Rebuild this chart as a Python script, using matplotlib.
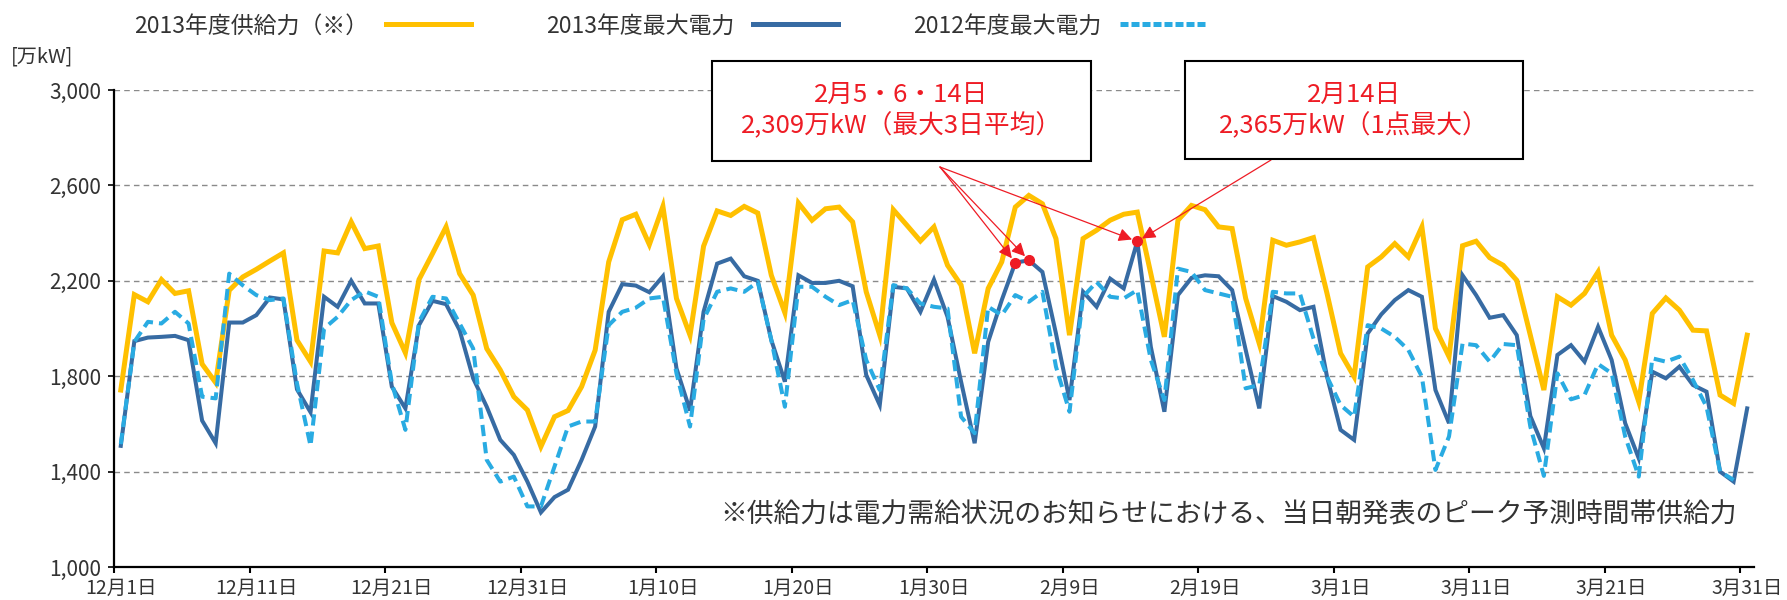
import matplotlib
matplotlib.use('Agg')
import matplotlib.pyplot as plt
from matplotlib.lines import Line2D
from matplotlib.patches import Rectangle
import numpy as np

plt.rcParams['font.family'] = ['Noto Sans CJK JP', 'DejaVu Sans']

# daily values, 12/1 .. 3/31 (121 days), 万kW
supply_2013 = [1742, 2142, 2112, 2205, 2147, 2158, 1851, 1773, 2160, 2216,
               2248, 2283, 2317, 1951, 1861, 2325, 2317, 2447, 2335, 2346,
               2024, 1898, 2205, 2314, 2426, 2230, 2140, 1916, 1826, 1714,
               1658, 1505, 1630, 1656, 1756, 1909, 2279, 2456, 2479, 2352,
               2512, 2126, 1972, 2345, 2493, 2474, 2512, 2484, 2223, 2066,
               2526, 2454, 2502, 2509, 2447, 2154, 1972, 2498, 2433, 2367,
               2426, 2265, 2182, 1896, 2168, 2279, 2509, 2558, 2523, 2377,
               1972, 2377, 2412, 2454, 2479, 2488, 2230, 1965, 2454, 2516,
               2498, 2426, 2419, 2126, 1937, 2370, 2349, 2363, 2381, 2147,
               1896, 1798, 2258, 2300, 2356, 2300, 2426, 2000, 1882, 2347,
               2366, 2297, 2265, 2202, 1972, 1742, 2133, 2098, 2147, 2237,
               1972, 1868, 1693, 2063, 2128, 2077, 1993, 1990, 1721, 1686,
               1972]

peak_2013 = [1508, 1947, 1962, 1965, 1969, 1951, 1614, 1519, 2025, 2025,
             2056, 2130, 2122, 1745, 1649, 2133, 2091, 2200, 2105, 2105,
             1756, 1665, 2014, 2116, 2102, 1993, 1791, 1672, 1533, 1470,
             1358, 1229, 1293, 1324, 1449, 1589, 2070, 2186, 2180, 2152,
             2219, 1833, 1656, 2070, 2272, 2293, 2219, 2200, 1951, 1777,
             2223, 2191, 2191, 2200, 2177, 1805, 1679, 2175, 2168, 2070,
             2205, 2049, 1777, 1519, 1944, 2119, 2276, 2286, 2237, 1979,
             1700, 2154, 2091, 2209, 2168, 2365, 1923, 1651, 2140, 2212,
             2223, 2219, 2161, 1910, 1665, 2136, 2112, 2077, 2091, 1798,
             1575, 1533, 1979, 2059, 2119, 2161, 2133, 1742, 1603, 2223,
             2140, 2045, 2056, 1972, 1633, 1498, 1889, 1930, 1861, 2007,
             1868, 1603, 1456, 1819, 1791, 1840, 1763, 1735, 1400, 1358,
             1665]

peak_2012 = [1515, 1944, 2028, 2021, 2070, 2021, 1714, 1707, 2230, 2181,
             2140, 2119, 2126, 1770, 1508, 2000, 2049, 2119, 2156, 2133,
             1770, 1575, 2028, 2133, 2126, 2021, 1916, 1449, 1358, 1379,
             1254, 1254, 1421, 1589, 1610, 1610, 2014, 2070, 2087, 2126,
             2133, 1812, 1589, 2038, 2154, 2168, 2154, 2195, 1951, 1672,
             2175, 2175, 2133, 2098, 2119, 1868, 1742, 2182, 2168, 2105,
             2091, 2084, 1630, 1561, 2091, 2056, 2140, 2112, 2154, 1840,
             1651, 2133, 2195, 2133, 2126, 2161, 1868, 1700, 2251, 2237,
             2161, 2147, 2133, 1749, 1763, 2154, 2147, 2147, 1958, 1798,
             1679, 1630, 2014, 2000, 1965, 1910, 1798, 1407, 1547, 1937,
             1930, 1861, 1935, 1930, 1589, 1382, 1812, 1703, 1721, 1851,
             1812, 1547, 1379, 1875, 1861, 1882, 1784, 1672, 1400, 1365,
             np.nan]

date_labels = ['12月1日', '12月11日', '12月21日', '12月31日', '1月10日', '1月20日',
               '1月30日', '2月9日', '2月19日', '3月1日', '3月11日', '3月21日', '3月31日']

avg_days = [66, 67, 75]   # 2/5, 2/6, 2/14
max_day = 75              # 2/14

c_supply = '#FFC000'
c_2013 = '#376BA3'
c_2012 = '#29ABE2'
c_red = '#EE1C25'
c_text = '#333333'

fig = plt.figure(figsize=(17.87, 6), dpi=100)
ax = fig.add_axes([0.0638, 0.055, 0.9177, 0.795])

x = np.arange(len(supply_2013))
ax.plot(x, supply_2013, color=c_supply, lw=3.6, solid_joinstyle='miter', zorder=3)
ax.plot(x, peak_2013, color=c_2013, lw=2.9, solid_joinstyle='miter', zorder=4)
ax.plot(x, peak_2012, color=c_2012, lw=2.9, ls=(0, (2.8, 1.5)), zorder=5)

pk = np.array(peak_2013)
ax.plot(avg_days, pk[avg_days], 'o', color=c_red, ms=7, zorder=6)

ax.set_xlim(-0.5, len(x) - 0.5)
ax.set_ylim(1000, 3000)
ax.set_yticks(range(1000, 3001, 400))
ax.set_yticklabels([f'{v:,}' for v in range(1000, 3001, 400)])
ax.set_xticks(np.arange(0, len(x), 10))
ax.set_xticklabels(date_labels)
ax.set_xticks(np.arange(-0.5, len(x) - 1, 10), minor=True)
ax.tick_params(axis='x', which='major', length=0, pad=8, labelsize=14, labelcolor=c_text)
ax.tick_params(axis='x', which='minor', length=4, width=1.5, direction='out')
ax.tick_params(axis='y', length=4, width=1.2, pad=5, labelsize=15, labelcolor=c_text)

ax.grid(axis='y', ls=(0, (4, 3)), color='#8a8a8a', lw=1.0)
ax.set_axisbelow(True)
for s in ['top', 'right']:
    ax.spines[s].set_visible(False)
for s in ['left', 'bottom']:
    ax.spines[s].set_linewidth(1.6)

fig.text(11 / 1787, 1 - 57 / 600, '[万kW]', fontsize=14.5, color=c_text, va='center')

handles = [Line2D([], [], color=c_supply, lw=3.6),
           Line2D([], [], color=c_2013, lw=3.6),
           Line2D([], [], color=c_2012, lw=3.6, ls=(0, (1.6, 0.6)))]
labels = ['2013年度供給力（※）', '2013年度最大電力', '2012年度最大電力']
fig.legend(handles, labels, ncol=3, markerfirst=False, frameon=False,
           loc='center left', bbox_to_anchor=(113 / 1787, 1 - 26 / 600),
           fontsize=16.5, handlelength=3.7, handletextpad=0.8, columnspacing=3.3,
           labelcolor=c_text)

fig.text(1228 / 1787, 0.1417, '※供給力は電力需給状況のお知らせにおける、当日朝発表のピーク予測時間帯供給力',
         ha='center', va='center', fontsize=19.3, color=c_text)

# annotation boxes
boxes = [(712, 61, 1091, 161, '2月5・6・14日', '2,309万kW（最大3日平均）'),
         (1185, 61, 1523, 159, '2月14日', '2,365万kW（1点最大）')]
for x0, y0, x1, y1, l1, l2 in boxes:
    fig.patches.append(Rectangle((x0 / 1787, 1 - y1 / 600), (x1 - x0) / 1787, (y1 - y0) / 600,
                                 transform=fig.transFigure, fill=True, facecolor='white',
                                 edgecolor='black', lw=1.5, zorder=10))
    cx = (x0 + x1) / 2 / 1787
    fig.text(cx, 1 - 95 / 600, l1, ha='center', va='center', fontsize=18.5, color=c_red, zorder=11)
    fig.text(cx, 1 - 126 / 600, l2, ha='center', va='center', fontsize=18.5, color=c_red, zorder=11)

arrow = dict(arrowstyle='-|>', color=c_red, lw=0.9, mutation_scale=20, shrinkA=0, shrinkB=4)
for d in avg_days:
    ax.annotate('', xy=(d, pk[d]), xycoords='data',
                xytext=(940 / 1787, 1 - 167 / 600), textcoords='figure fraction',
                arrowprops=arrow, zorder=7)
ax.annotate('', xy=(max_day, pk[max_day]), xycoords='data',
            xytext=(1271 / 1787, 1 - 160 / 600), textcoords='figure fraction',
            arrowprops=arrow, zorder=7)

fig.savefig('out.png', dpi=100)
